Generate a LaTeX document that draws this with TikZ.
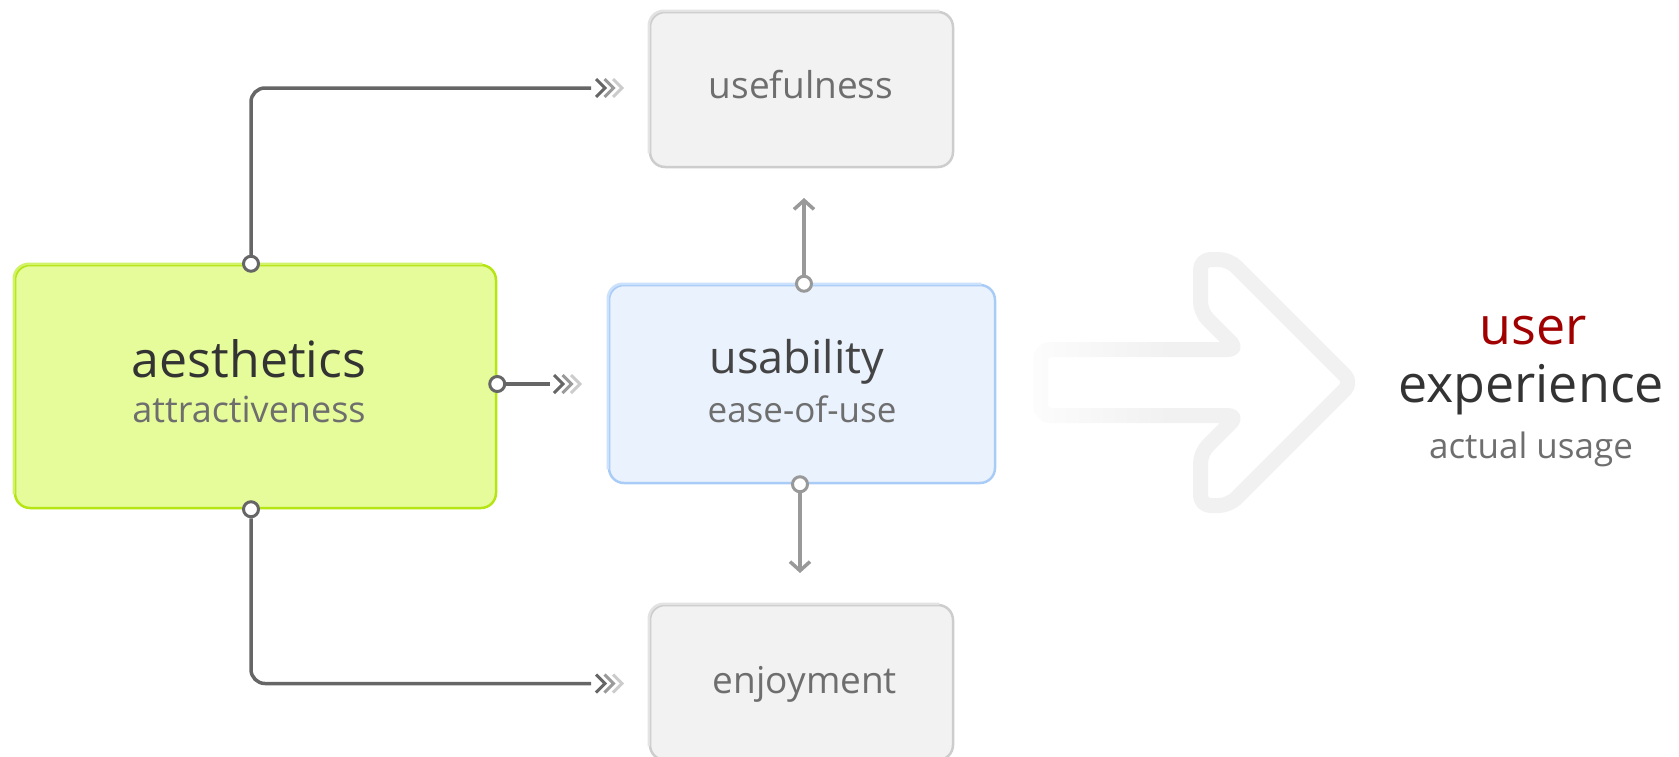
\documentclass[tikz,border=0pt]{standalone}
\usepackage{fontspec}
\setmainfont{Open Sans}
\usetikzlibrary{arrows.meta,fadings}

\definecolor{limefill}{HTML}{E6FB9A}
\definecolor{limedark}{HTML}{B6E514}
\definecolor{limelite}{HTML}{D3F26C}
\definecolor{bluefill}{HTML}{EAF2FD}
\definecolor{bluedark}{HTML}{A9CCF7}
\definecolor{bluelite}{HTML}{CCE1FB}
\definecolor{greyfill}{HTML}{F2F2F2}
\definecolor{greydark}{HTML}{CDCDCD}
\definecolor{greylite}{HTML}{E3E3E3}
\definecolor{wire}{HTML}{666666}
\definecolor{wirelite}{HTML}{999999}
\definecolor{chevA}{HTML}{666666}
\definecolor{chevB}{HTML}{9A9A9A}
\definecolor{chevC}{HTML}{CCCCCC}
\definecolor{ghost}{HTML}{F1F1F1}
\definecolor{inkdark}{HTML}{333333}
\definecolor{inkmid}{HTML}{444444}
\definecolor{inksoft}{HTML}{6E6E6E}
\definecolor{uxred}{HTML}{A00000}

\newcommand\fsz[1]{\fontsize{#1}{#1}\selectfont}

% opaque on the left, clear on the right
\tikzfading[name=tailfade, left color=transparent!0, right color=transparent!100]

\tikzset{
  panel/.style={rectangle, rounded corners=15pt, line width=2.5pt, inner sep=0pt},
  liteedge/.style={rounded corners=15pt, line width=2.5pt},
  port/.style={circle, draw, fill=white, line width=3pt, minimum size=15pt, inner sep=0pt},
  wireline/.style={line width=3.5pt, wire, rounded corners=14pt},
  liteline/.style={line width=3.5pt, wirelite, -{Straight Barb[length=9pt,width=20pt]}},
  word/.style={anchor=base, inner sep=0pt},
  chev/.pic={
    \draw[line width=3pt, chevC] (17,-9) -- (26,0) -- (17,9);
    \draw[line width=3pt, chevB] (8.5,-9) -- (17.5,0) -- (8.5,9);
    \draw[line width=3pt, chevA] (0,-9) -- (9,0) -- (0,9);
  }
}

\begin{document}
\begin{tikzpicture}[x=1pt, y=-1pt]
\useasboundingbox (0,0) rectangle (1679,756);

% large pale arrow pointing to the outcome
\draw[ghost, line width=15pt, rounded corners=10pt, line join=round]
  (1040.5,349.5) -- (1238,349.5) -- (1200.5,312) -- (1200.5,259.5) -- (1229,259.5)
  -- (1352,382.5) -- (1229,505.5) -- (1200.5,505.5) -- (1200.5,453) -- (1238,415.5)
  -- (1040.5,415.5) -- cycle;
\fill[white, fill opacity=0.9, path fading=tailfade] (1022,334) rectangle (1175,432);

% boxes
\node[panel, draw=limedark, fill=limefill, minimum width=481pt, minimum height=243pt] (aes) at (255.5,386.5) {};
\node[panel, draw=bluedark, fill=bluefill, minimum width=386pt, minimum height=198pt] (usa) at (802,384) {};
\node[panel, draw=greydark, fill=greyfill, minimum width=303pt, minimum height=155pt] (usef) at (801.5,89.5) {};
\node[panel, draw=greydark, fill=greyfill, minimum width=303pt, minimum height=155pt] (enj) at (801.5,682.5) {};

% lighter top and left edges
\draw[liteedge, limelite] ([yshift=15pt]aes.south west) -- (aes.north west) -- ([xshift=-15pt]aes.north east);
\draw[liteedge, bluelite] ([yshift=15pt]usa.south west) -- (usa.north west) -- ([xshift=-15pt]usa.north east);
\draw[liteedge, greylite] ([yshift=15pt]usef.south west) -- (usef.north west) -- ([xshift=-15pt]usef.north east);
\draw[liteedge, greylite] ([yshift=15pt]enj.south west) -- (enj.north west) -- ([xshift=-15pt]enj.north east);

% connection ports
\node[port, draw=wire] (aesN) at ([xshift=-4.5pt]aes.north) {};
\node[port, draw=wire] (aesS) at ([xshift=-4.5pt]aes.south) {};
\node[port, draw=wire] (aesE) at ([yshift=2.5pt]aes.east) {};
\node[port, draw=wirelite] (usaN) at ([xshift=2pt]usa.north) {};
\node[port, draw=wirelite] (usaS) at ([xshift=-2pt]usa.south) {};

% free ends of the connectors
\coordinate (toUsef) at (591,88);
\coordinate (toEnj) at (591,683.5);
\coordinate (toUsa) at (550,384);
\coordinate (upTip) at (804,198);
\coordinate (downTip) at (800,573);

% aesthetics connectors
\draw[wireline] (aesN) |- (toUsef);
\draw[wireline] (aesS) |- (toEnj);
\draw[wireline] (aesE) -- (toUsa);
\pic at ([xshift=5pt]toUsef) {chev};
\pic at ([xshift=5pt]toEnj) {chev};
\pic at ([xshift=4pt]toUsa) {chev};

% usability connectors
\draw[liteline] (usaN) -- (upTip);
\draw[liteline] (usaS) -- (downTip);

% labels
\node[word, font=\fsz{50}, text=inkdark] (aesT) at (249,377) {aesthetics};
\node[word, font=\fsz{36}, text=inksoft] (aesL) at (249,422) {attractiveness};
\node[word, font=\fsz{45}, text=inkmid] (usaT) at (797,373) {usability};
\node[word, font=\fsz{35}, text=inksoft] (usaL) at (802,422) {ease-of-use};
\node[word, font=\fsz{37}, text=inksoft] (usefT) at (801,98) {usefulness};
\node[word, font=\fsz{37}, text=inksoft] (enjT) at (805,693) {enjoyment};
\node[word, font=\fsz{52}, text=uxred] (uxA) at (1533,344) {user};
\node[word, font=\fsz{52}, text=inkdark] (uxB) at (1531,402) {experience};
\node[word, font=\fsz{35}, text=inksoft] (uxC) at (1531,458) {actual usage};
\end{tikzpicture}
\end{document}
